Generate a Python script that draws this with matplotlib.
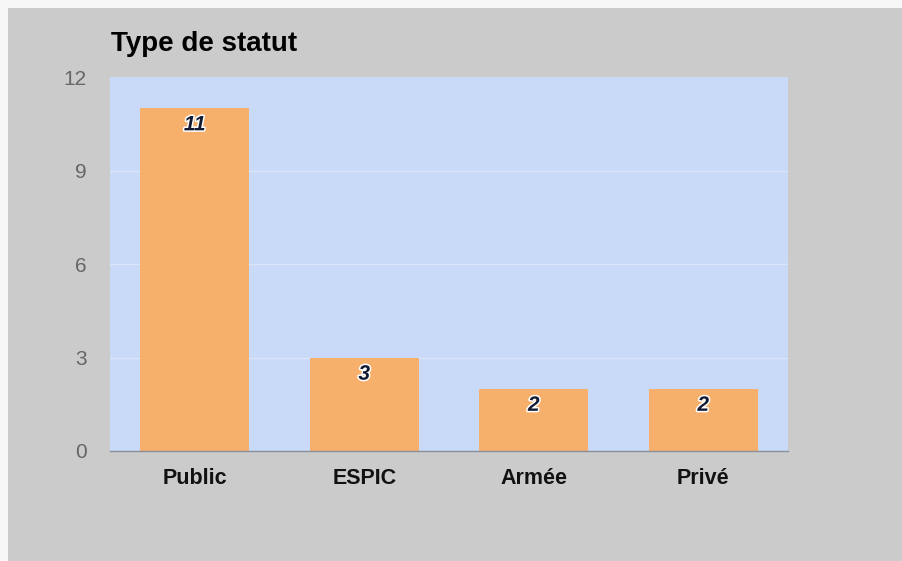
import matplotlib
matplotlib.use("Agg")
import matplotlib.pyplot as plt
import matplotlib.patheffects as pe
from matplotlib.patches import Rectangle

categories = ["Public", "ESPIC", "Armée", "Privé"]
values = [11, 3, 2, 2]
yticks = [0, 3, 6, 9, 12]
title = "Type de statut"

W, H = 903, 561
fig = plt.figure(figsize=(W / 100, H / 100), dpi=100)
fig.patch.set_facecolor("#f7f7f7")
fig.patches.append(Rectangle((8 / W, 0), 1, 1 - 8 / H, transform=fig.transFigure,
                             facecolor="#cbcbcb", edgecolor="none", zorder=0))

left, right, top, bottom = 110, 788, 77, 451
ax = fig.add_axes([left / W, 1 - bottom / H, (right - left) / W, (bottom - top) / H])
ax.set_zorder(2)
ax.set_facecolor("#c9daf8")
ax.set_xlim(-0.5, len(categories) - 0.5)
ax.set_ylim(0, 12)

for y in yticks[1:-1]:
    ax.axhline(y, color="#dae5f9", linewidth=1, zorder=1)

x = list(range(len(categories)))
ax.bar(x, values, width=0.645, color="#f6b06b", zorder=2)

for xi, v in zip(x, values):
    ax.annotate(str(v), (xi, v), xytext=(0, -12), textcoords="offset points",
                ha="center", va="center", fontsize=15, fontweight="bold",
                fontstyle="italic", color="#141a30", family="Liberation Sans",
                path_effects=[pe.withStroke(linewidth=2.2, foreground="white")], zorder=3)

for s in ["top", "right", "left"]:
    ax.spines[s].set_visible(False)
ax.spines["bottom"].set_color("#8a8f99")
ax.spines["bottom"].set_linewidth(1)
ax.spines["bottom"].set_zorder(4)

ax.set_yticks(yticks)
ax.set_yticklabels([str(t) for t in yticks], fontsize=15, color="#666666",
                   family="Liberation Sans")
ax.tick_params(axis="y", length=0, pad=17)
ax.set_xticks(x)
ax.set_xticklabels(categories, fontsize=15.5, fontweight="bold", color="#111111",
                   family="Liberation Sans")
ax.tick_params(axis="x", length=0, pad=12)

fig.text(111 / W, 1 - 44 / H, title, fontsize=20, fontweight="bold", color="#000000",
         family="Liberation Sans", ha="left", va="center")

fig.savefig("out.png", dpi=100, facecolor=fig.get_facecolor())
